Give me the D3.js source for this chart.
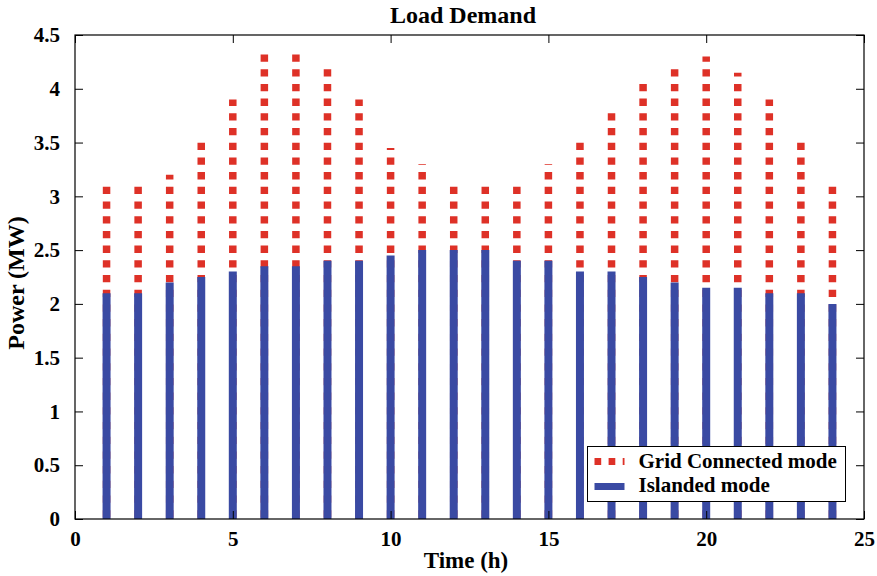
<!DOCTYPE html>
<html>
<head>
<meta charset="utf-8">
<script src="https://cdn.jsdelivr.net/npm/d3@7"></script>
<style>
  body { margin: 0; background: #fff; }
  text { font-family: "Liberation Serif", "Times New Roman", serif; font-weight: bold; fill: #000; }
</style>
</head>
<body>
<div id="chart"></div>
<script>

// chart data
var hours = [1, 2, 3, 4, 5, 6, 7, 8, 9, 10, 11, 12, 13, 14, 15, 16, 17, 18, 19, 20, 21, 22, 23, 24];
var gridConnected = [3.1, 3.1, 3.2, 3.5, 3.9, 4.35, 4.35, 4.2, 3.9, 3.45, 3.3, 3.1,
                     3.1, 3.1, 3.3, 3.5, 3.8, 4.05, 4.2, 4.3, 4.15, 3.9, 3.5, 3.1];
var islanded = [2.1, 2.1, 2.2, 2.25, 2.3, 2.35, 2.35, 2.4, 2.4, 2.45, 2.5, 2.5,
                2.5, 2.4, 2.4, 2.3, 2.3, 2.25, 2.2, 2.15, 2.15, 2.1, 2.1, 2.0];
var xTicks = [0, 5, 10, 15, 20, 25];
var yTicks = [0, 0.5, 1, 1.5, 2, 2.5, 3, 3.5, 4, 4.5];
var seriesNames = ["Grid Connected mode", "Islanded mode"];

var red = "#de3127", blue = "#3a4aa3";

// set the dimensions and margins of the graph
var margin = {top: 35, right: 13, bottom: 57, left: 75},
    width = 877 - margin.left - margin.right,
    height = 576 - margin.top - margin.bottom;

var root = d3.select("#chart")
  .append("svg")
    .attr("width", 877)
    .attr("height", 576);

var svg = root.append("g")
    .attr("transform", "translate(" + margin.left + "," + margin.top + ")");

var x = d3.scaleLinear().domain([0, 25]).range([0, width]);
var y = d3.scaleLinear().domain([0, 4.5]).range([height, 0]);

// red dotted stems (grid connected), drawn from 0 upward
svg.append("g")
  .selectAll("line")
  .data(hours)
  .enter()
  .append("line")
    .attr("x1", function (d) { return x(d); })
    .attr("x2", function (d) { return x(d); })
    .attr("y1", y(0))
    .attr("y2", function (d, i) { return y(gridConnected[i]); })
    .attr("stroke", red)
    .attr("stroke-width", 7.5)
    .attr("stroke-dasharray", "7.3,7.4")
    .attr("stroke-dashoffset", -1.5);

// blue solid stems (islanded)
svg.append("g")
  .selectAll("line")
  .data(hours)
  .enter()
  .append("line")
    .attr("x1", function (d) { return x(d); })
    .attr("x2", function (d) { return x(d); })
    .attr("y1", y(0))
    .attr("y2", function (d, i) { return y(islanded[i]); })
    .attr("stroke", blue)
    .attr("stroke-width", 8);

// axes, ticks pointing inward
function styleAxis(g) {
  g.select(".domain").remove();
  g.selectAll(".tick line").attr("stroke", "#000").attr("stroke-width", 1);
  g.selectAll("text").style("font-size", "21px").attr("fill", "#000");
}

svg.append("g")
  .attr("transform", "translate(0," + height + ")")
  .call(d3.axisBottom(x).tickValues(xTicks).tickSizeInner(-8).tickSizeOuter(0).tickPadding(12))
  .call(styleAxis);

svg.append("g")
  .call(d3.axisLeft(y).tickValues(yTicks).tickSizeInner(-8).tickSizeOuter(0).tickPadding(15)
        .tickFormat(d3.format("")))
  .call(styleAxis);

svg.append("g")
  .call(d3.axisTop(x).tickValues(xTicks).tickSizeInner(-8).tickSizeOuter(0).tickFormat(""))
  .call(styleAxis);

svg.append("g")
  .attr("transform", "translate(" + width + ",0)")
  .call(d3.axisRight(y).tickValues(yTicks).tickSizeInner(-8).tickSizeOuter(0).tickFormat(""))
  .call(styleAxis);

// frame
svg.append("rect")
  .attr("width", width)
  .attr("height", height)
  .attr("fill", "none")
  .attr("stroke", "#000")
  .attr("stroke-width", 1.2);

// title and axis labels
root.append("text")
  .attr("x", 463)
  .attr("y", 23)
  .attr("text-anchor", "middle")
  .style("font-size", "24px")
  .text("Load Demand");

root.append("text")
  .attr("x", 466)
  .attr("y", 568)
  .attr("text-anchor", "middle")
  .style("font-size", "23px")
  .text("Time (h)");

root.append("text")
  .attr("transform", "translate(24,283) rotate(-90)")
  .attr("text-anchor", "middle")
  .style("font-size", "24px")
  .text("Power (MW)");

// legend
var legend = root.append("g").attr("transform", "translate(587.5,446.5)");
legend.append("rect")
  .attr("width", 258)
  .attr("height", 55)
  .attr("fill", "#fff")
  .attr("stroke", "#000")
  .attr("stroke-width", 1);

legend.append("line")
  .attr("x1", 7).attr("x2", 37)
  .attr("y1", 15).attr("y2", 15)
  .attr("stroke", red)
  .attr("stroke-width", 7)
  .attr("stroke-dasharray", "6.7,7.4");

legend.append("line")
  .attr("x1", 7).attr("x2", 37)
  .attr("y1", 40).attr("y2", 40)
  .attr("stroke", blue)
  .attr("stroke-width", 7);

legend.selectAll("text.lab")
  .data(seriesNames)
  .enter()
  .append("text")
    .attr("class", "lab")
    .attr("x", 51)
    .attr("y", function (d, i) { return 21 + i * 24.5; })
    .style("font-size", "21px")
    .text(function (d) { return d; });

</script>
</body>
</html>
